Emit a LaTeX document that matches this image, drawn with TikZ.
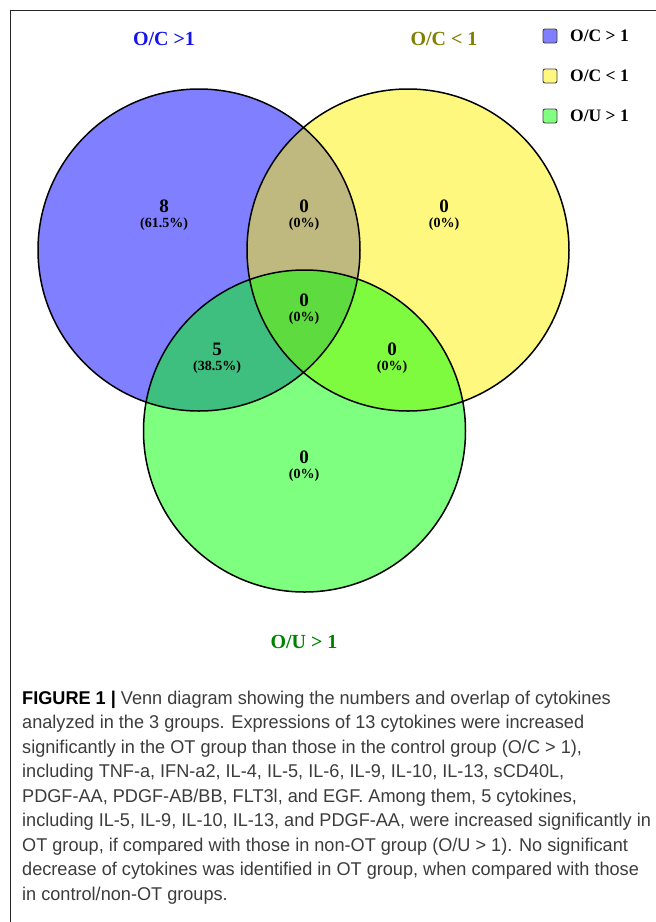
\documentclass[tikz,border=0pt]{standalone}
\usepackage{fontspec}
\setmainfont{Liberation Serif}
\newfontfamily\capfont[FakeStretch=0.98]{Liberation Sans}
\definecolor{titleblue}{RGB}{20,20,235}
\definecolor{titleolive}{RGB}{128,128,0}
\definecolor{titlegreen}{RGB}{0,130,0}
\definecolor{capgray}{RGB}{60,60,60}
\tikzset{
  setfill/.style={opacity=0.5},
  setline/.style={draw=black, line width=1.5pt},
  cnt/.style={font=\bfseries\fontsize{19}{19}\selectfont, inner sep=0pt},
  pct/.style={font=\bfseries\fontsize{14}{14}\selectfont, inner sep=0pt},
  ttl/.style={font=\bfseries\fontsize{20}{20}\selectfont, inner sep=0pt},
  legbox/.style={draw=black!75, line width=0.9pt, rounded corners=2pt, minimum size=14pt, inner sep=0pt},
  legtxt/.style={font=\bfseries\fontsize{17.5}{17.5}\selectfont, inner sep=0pt, anchor=west},
  capline/.style={font=\capfont\fontsize{18.5}{18.5}\selectfont, text=capgray, inner sep=0pt, anchor=base west}
}
\begin{document}
\begin{tikzpicture}[x=1pt,y=-1pt]
\useasboundingbox (0,0) rectangle (656,922);
% frame
\draw[line width=1.4pt, black!85] (10.7,922) -- (10.7,10.7) -- (656,10.7);
% set centres
\coordinate (cA) at (199,250);
\coordinate (cB) at (408,250);
\coordinate (cC) at (304.5,431);
% fills
\fill[blue, setfill] (cA) circle[radius=161pt];
\fill[yellow, setfill] (cB) circle[radius=161pt];
\fill[green, setfill] (cC) circle[radius=161pt];
% outlines
\draw[setline] (cA) circle[radius=161pt];
\draw[setline] (cB) circle[radius=161pt];
\draw[setline] (cC) circle[radius=161pt];
% counts
\node[cnt] (nA) at (164,206) {8};
\node[pct] (pA) at (164,224.5) {(61.5\%)};
\node[cnt] (nAB) at (304,206) {0};
\node[pct] (pAB) at (304,224) {(0\%)};
\node[cnt] (nB) at (444,206) {0};
\node[pct] (pB) at (444,224) {(0\%)};
\node[cnt] (nABC) at (304,300) {0};
\node[pct] (pABC) at (304,318) {(0\%)};
\node[cnt] (nAC) at (217,349) {5};
\node[pct] (pAC) at (217,367) {(38.5\%)};
\node[cnt] (nBC) at (392,349) {0};
\node[pct] (pBC) at (392,367) {(0\%)};
\node[cnt] (nC) at (304,457) {0};
\node[pct] (pC) at (304,475) {(0\%)};
% titles
\node[ttl, text=titleblue] (tA) at (164,39) {O/C >1};
\node[ttl, text=titleolive] (tB) at (444,39) {O/C < 1};
\node[ttl, text=titlegreen] (tC) at (304,642) {O/U > 1};
% legend
\node[legbox, fill=blue!50] (l1) at (550,36) {};
\node[legbox, fill=yellow!50] (l2) at (550,76) {};
\node[legbox, fill=green!50] (l3) at (550,116) {};
\node[legtxt] (lt1) at (570,36) {O/C > 1};
\node[legtxt] (lt2) at (570,76) {O/C < 1};
\node[legtxt] (lt3) at (570,116) {O/U > 1};
% caption
\node[capline] (c1) at (22,704) {{\bfseries\color{black}FIGURE 1 |} Venn diagram showing the numbers and overlap of cytokines};
\node[capline] (c2) at (22,728.5) {analyzed in the 3 groups. Expressions of 13 cytokines were increased};
\node[capline] (c3) at (22,753) {significantly in the OT group than those in the control group (O/C > 1),};
\node[capline] (c4) at (22,777.5) {including TNF-a, IFN-a2, IL-4, IL-5, IL-6, IL-9, IL-10, IL-13, sCD40L,};
\node[capline] (c5) at (22,802) {PDGF-AA, PDGF-AB/BB, FLT3l, and EGF. Among them, 5 cytokines,};
\node[capline] (c6) at (22,826.5) {including IL-5, IL-9, IL-10, IL-13, and PDGF-AA, were increased significantly in};
\node[capline] (c7) at (22,851) {OT group, if compared with those in non-OT group (O/U > 1). No significant};
\node[capline] (c8) at (22,875.5) {decrease of cytokines was identified in OT group, when compared with those};
\node[capline] (c9) at (22,900) {in control/non-OT groups.};
\end{tikzpicture}
\end{document}
